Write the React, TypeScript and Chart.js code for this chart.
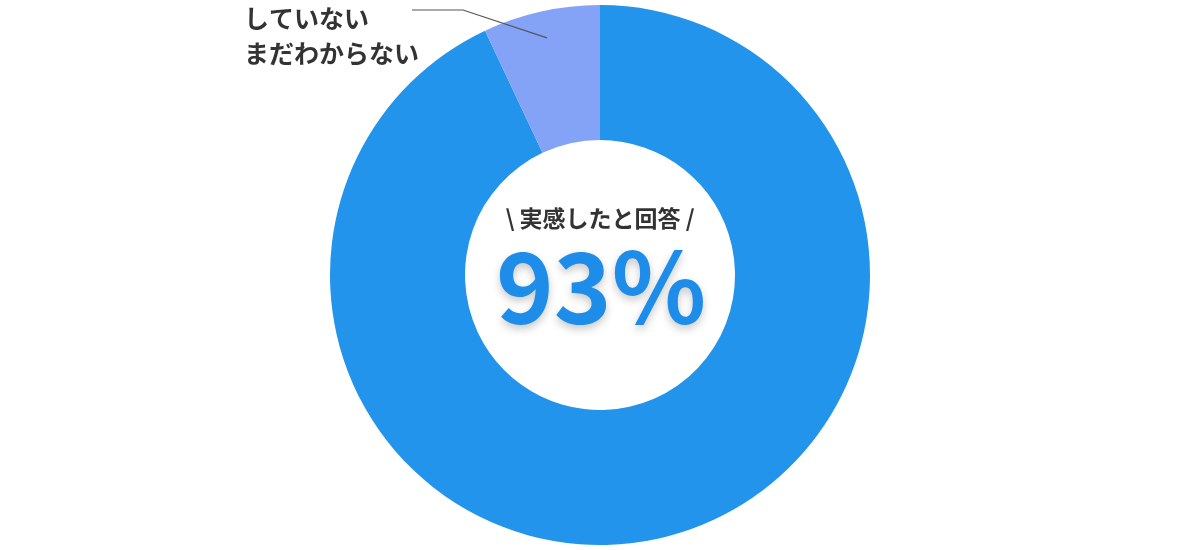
import React, { useEffect, useRef } from "react";
import { Chart, registerables } from "chart.js";

Chart.register(...registerables);

const categories = ["実感した", "していない\nまだわからない"];
const values = [93, 7];
const colors = ["#2394EB", "#84A2F6"];
const centerCaption = "\\ 実感したと回答 /";
const centerValue = "93%";

const FONT = "'Noto Sans CJK JP', 'Noto Sans', sans-serif";

const overlayPlugin = {
  id: "overlay",
  afterDraw(chart: any) {
    const ctx = chart.ctx as CanvasRenderingContext2D;
    const meta = chart.getDatasetMeta(0);
    const arc = meta.data[1] as any;
    const { x, y, startAngle, endAngle, outerRadius } = arc.getProps(
      ["x", "y", "startAngle", "endAngle", "outerRadius"],
      true
    );
    const mid = (startAngle + endAngle) / 2;
    const r0 = outerRadius * 0.9;
    const px = x + Math.cos(mid) * r0;
    const py = y + Math.sin(mid) * r0;
    const ey = y - outerRadius + 5;
    const ex = px - 84;
    const lx = ex - 51;

    ctx.save();
    ctx.strokeStyle = "#555";
    ctx.lineWidth = 1.2;
    ctx.beginPath();
    ctx.moveTo(px, py);
    ctx.lineTo(ex, ey);
    ctx.lineTo(lx, ey);
    ctx.stroke();

    ctx.fillStyle = "#333";
    ctx.font = `bold 25px ${FONT}`;
    ctx.textAlign = "left";
    ctx.textBaseline = "middle";
    const lines = categories[1].split("\n");
    lines.forEach((t, i) => {
      ctx.fillText(t, lx - 168, ey + 8 + i * 35);
    });

    // center text
    ctx.textAlign = "center";
    ctx.fillStyle = "#333";
    ctx.font = `bold 23px ${FONT}`;
    ctx.fillText(centerCaption, x, y - 57);

    ctx.shadowColor = "rgba(0,0,0,0.22)";
    ctx.shadowBlur = 8;
    ctx.shadowOffsetY = 4;
    ctx.fillStyle = "#1E8DE9";
    ctx.font = `bold 98px ${FONT}`;
    ctx.textBaseline = "alphabetic";
    ctx.fillText(centerValue, x + 1, y + 49);
    ctx.restore();
  },
};

export default function App() {
  const ref = useRef<HTMLCanvasElement | null>(null);
  useEffect(() => {
    if (!ref.current) return;
    const chart = new Chart(ref.current, {
      type: "doughnut",
      data: {
        labels: categories,
        datasets: [
          {
            data: values,
            backgroundColor: colors,
            borderWidth: 0,
          },
        ],
      },
      options: {
        animation: false,
        responsive: true,
        maintainAspectRatio: false,
        cutout: "50%",
        layout: { padding: { top: 5, bottom: 5 } },
        plugins: {
          legend: { display: false },
          tooltip: { enabled: false },
        },
      },
      plugins: [overlayPlugin],
    });
    return () => chart.destroy();
  }, []);
  return (
    <div style={{ position: "fixed", left: 0, top: 0, width: 1200, height: 550, background: "#fff" }}>
      <canvas ref={ref} />
    </div>
  );
}
